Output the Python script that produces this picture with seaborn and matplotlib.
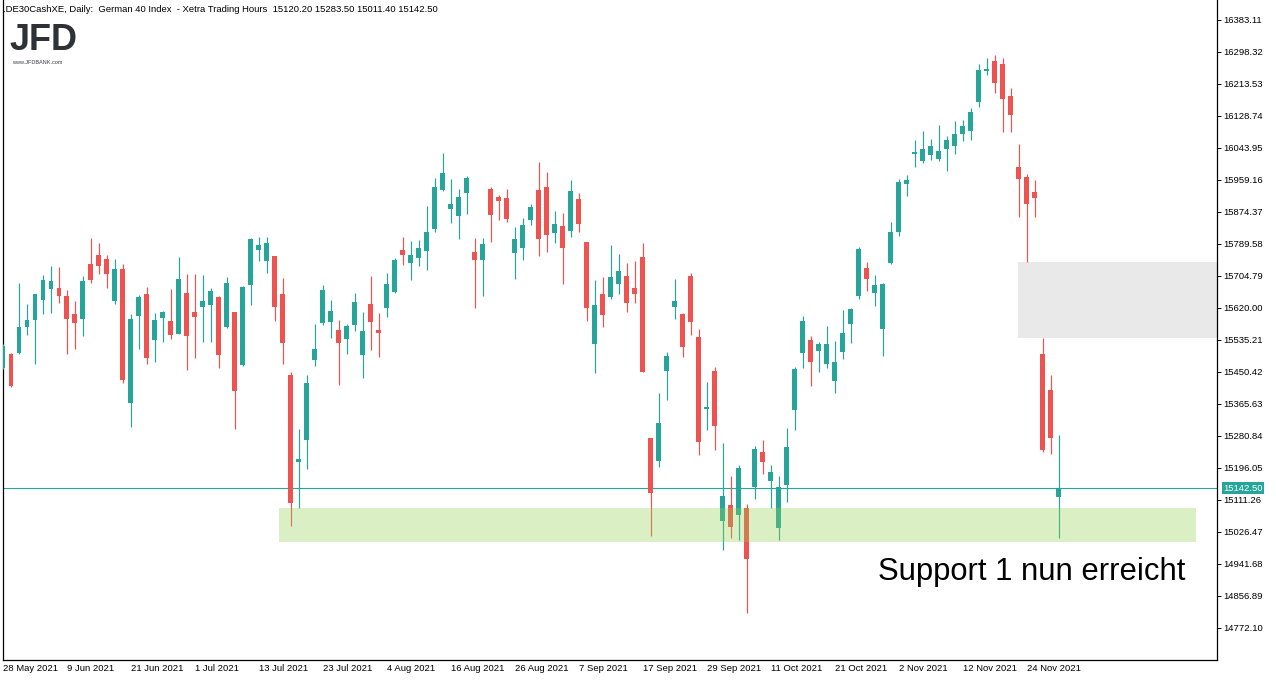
import numpy as np
import pandas as pd
import matplotlib
matplotlib.use("Agg")
import matplotlib.pyplot as plt
from matplotlib.patches import Rectangle
import seaborn as sns

# daily OHLC, 28 May 2021 .. 30 Nov 2021
opens = [
    15461.6, 15497.9, 15500.6, 15570.2, 15588.8, 15641.8, 15670.9, 15672.8, 15651.6, 15603.9,
    15591.4, 15736.4, 15760.2, 15749.6, 15639.1, 15723.1, 15368.8, 15599.4, 15656.9, 15535.8,
    15594.1, 15585.3, 15551.7, 15659.5, 15609.2, 15623.2, 15628.5, 15648.9, 15570.2, 15609.2,
    15469.5, 15681.5, 15774.3, 15745.1, 15757.6, 15656.9, 15442.2, 15212.5, 15270.8, 15482.0,
    15580.0, 15582.7, 15561.5, 15537.6, 15574.7, 15495.2, 15630.4, 15561.5, 15619.8, 15662.2,
    15773.5, 15739.0, 15752.3, 15770.8, 15829.1, 15932.5, 15882.1, 15863.6, 15924.5, 15768.2,
    15747.0, 15935.1, 15913.9, 15911.3, 15765.5, 15778.8, 15853.0, 15932.5, 15940.4, 15818.5,
    15837.1, 15823.8, 15908.6, 15794.7, 15524.4, 15656.9, 15648.9, 15683.4, 15704.6, 15672.8,
    15754.9, 15275.3, 15215.1, 15453.6, 15623.2, 15603.9, 15704.6, 15542.9, 15352.9, 15452.8,
    15056.1, 15097.7, 15072.0, 15089.8, 15146.2, 15238.2, 15162.1, 15037.6, 15151.5, 15350.3,
    15501.3, 15535.0, 15506.6, 15472.2, 15427.1, 15504.0, 15578.2, 15652.4, 15725.8, 15660.3,
    15564.9, 15739.8, 15822.0, 15949.2, 16028.7, 16010.1, 16026.0, 16015.4, 16041.9, 16049.9,
    16081.7, 16089.6, 16166.5, 16248.6, 16274.3, 16266.4, 16181.6, 15993.4, 15967.0, 15927.2,
    15497.9, 15402.5, 15120.2,
]
highs = [
    15524.4, 15500.6, 15686.0, 15630.4, 15658.2, 15707.2, 15731.1, 15728.4, 15667.5, 15638.3,
    15704.6, 15805.3, 15792.0, 15760.2, 15749.6, 15736.4, 15603.9, 15654.2, 15675.4, 15606.5,
    15611.8, 15670.1, 15754.9, 15709.9, 15709.9, 15707.2, 15672.8, 15651.6, 15702.0, 15610.5,
    15678.1, 15805.3, 15808.7, 15808.7, 15758.9, 15699.3, 15450.2, 15299.1, 15442.2, 15577.4,
    15680.7, 15641.0, 15588.0, 15577.4, 15659.5, 15609.2, 15704.6, 15606.5, 15712.5, 15752.3,
    15807.9, 15797.3, 15800.0, 15890.1, 15964.3, 16030.5, 15961.6, 15935.1, 15969.6, 15805.3,
    15805.3, 15940.4, 15919.2, 15935.1, 15834.4, 15858.3, 15895.4, 16006.7, 15980.2, 15876.8,
    15871.5, 15959.0, 15924.5, 15796.0, 15694.0, 15702.0, 15786.7, 15762.9, 15739.0, 15744.3,
    15792.0, 15276.6, 15394.5, 15503.2, 15696.6, 15606.5, 15712.5, 15564.1, 15423.7, 15463.4,
    15262.0, 15174.6, 15203.7, 15100.4, 15254.1, 15270.0, 15203.7, 15174.6, 15301.8, 15463.4,
    15598.6, 15545.6, 15529.7, 15572.1, 15532.3, 15614.5, 15619.8, 15781.4, 15741.7, 15707.2,
    15686.0, 15847.7, 15961.6, 15972.2, 16065.0, 16088.8, 16067.6, 16104.7, 16075.6, 16115.3,
    16118.0, 16149.8, 16266.4, 16282.3, 16290.2, 16282.3, 16202.8, 16054.4, 15974.9, 15959.0,
    15540.3, 15442.2, 15283.5,
]
lows = [
    15458.1, 15410.5, 15497.9, 15548.2, 15472.2, 15604.7, 15607.3, 15633.8, 15498.7, 15511.9,
    15546.4, 15686.8, 15710.7, 15673.6, 15631.2, 15421.8, 15305.2, 15511.9, 15472.2, 15477.5,
    15530.5, 15538.4, 15550.4, 15456.3, 15488.1, 15530.5, 15530.5, 15461.6, 15567.6, 15299.9,
    15466.9, 15628.5, 15744.3, 15713.3, 15586.1, 15472.2, 15042.9, 15090.6, 15193.9, 15466.9,
    15574.7, 15540.3, 15415.7, 15497.9, 15558.8, 15434.3, 15508.5, 15489.9, 15595.9, 15659.5,
    15733.7, 15694.0, 15731.1, 15720.5, 15821.2, 15931.2, 15845.0, 15802.6, 15868.9, 15619.8,
    15651.6, 15794.7, 15853.0, 15847.7, 15696.6, 15747.0, 15839.7, 15757.6, 15768.2, 15792.0,
    15683.4, 15807.9, 15821.2, 15585.3, 15447.5, 15569.4, 15643.6, 15656.9, 15610.0, 15633.8,
    15449.7, 15016.4, 15199.2, 15376.8, 15591.4, 15490.7, 15549.0, 15231.0, 15297.3, 15244.3,
    14979.3, 15011.1, 15005.8, 14812.3, 15114.4, 15180.7, 15090.6, 15005.8, 15106.5, 15297.3,
    15461.6, 15413.9, 15451.0, 15461.6, 15395.3, 15485.4, 15527.8, 15644.4, 15665.6, 15625.9,
    15493.4, 15737.2, 15811.4, 15917.4, 15994.2, 16004.8, 16012.8, 16010.1, 15983.6, 16028.7,
    16063.1, 16065.8, 16153.2, 16238.0, 16190.3, 16087.0, 16087.0, 15861.7, 15742.0, 15861.7,
    15239.0, 15233.7, 15011.4,
]
closes = [
    15519.1, 15413.1, 15569.4, 15588.0, 15656.9, 15694.0, 15691.3, 15652.4, 15591.4, 15580.8,
    15691.3, 15694.8, 15731.9, 15710.7, 15723.1, 15429.8, 15590.6, 15648.9, 15488.1, 15588.0,
    15609.2, 15549.0, 15696.6, 15546.4, 15596.7, 15638.3, 15664.8, 15496.0, 15686.0, 15400.6,
    15675.4, 15802.6, 15786.7, 15792.0, 15623.2, 15527.8, 15103.8, 15219.6, 15421.0, 15511.1,
    15667.5, 15611.8, 15527.8, 15572.1, 15635.7, 15558.8, 15582.7, 15553.5, 15683.4, 15747.0,
    15760.2, 15760.2, 15778.8, 15821.2, 15940.4, 15977.5, 15895.4, 15913.9, 15964.3, 15747.0,
    15789.4, 15866.2, 15903.3, 15855.6, 15802.6, 15839.7, 15887.4, 15802.6, 15813.2, 15842.4,
    15778.8, 15929.8, 15842.4, 15619.8, 15627.7, 15601.2, 15702.0, 15717.8, 15633.8, 15657.7,
    15451.0, 15130.3, 15315.0, 15492.6, 15638.3, 15517.2, 15583.5, 15265.5, 15357.4, 15307.9,
    15121.6, 15040.2, 15195.8, 14955.4, 15246.1, 15212.5, 15185.2, 15145.4, 15251.4, 15458.1,
    15585.3, 15477.5, 15524.4, 15524.4, 15476.7, 15553.5, 15617.1, 15776.1, 15697.4, 15680.7,
    15683.4, 15821.2, 15953.7, 15959.0, 16033.2, 16041.1, 16049.1, 16035.8, 16065.0, 16080.9,
    16102.1, 16139.2, 16250.5, 16253.1, 16216.8, 16174.4, 16132.0, 15962.4, 15896.2, 15912.1,
    15244.3, 15276.1, 15142.5,
]

date_labels = ["28 May 2021", "9 Jun 2021", "21 Jun 2021", "1 Jul 2021", "13 Jul 2021",
               "23 Jul 2021", "4 Aug 2021", "16 Aug 2021", "26 Aug 2021", "7 Sep 2021",
               "17 Sep 2021", "29 Sep 2021", "11 Oct 2021", "21 Oct 2021", "2 Nov 2021",
               "12 Nov 2021", "24 Nov 2021"]
price_ticks = [16383.11, 16298.32, 16213.53, 16128.74, 16043.95, 15959.16, 15874.37,
               15789.58, 15704.79, 15620.00, 15535.21, 15450.42, 15365.63, 15280.84,
               15196.05, 15111.26, 15026.47, 14941.68, 14856.89, 14772.10]

last_price = 15142.50
support_zone = (15000.0, 15090.0)   # green band
gap_zone = (15540.0, 15742.0)       # grey band (26 Nov gap)

header = (".DE30CashXE, Daily:  German 40 Index  - Xetra Trading Hours  "
          "15120.20 15283.50 15011.40 15142.50")

GREEN = "#26a69a"
RED = "#ef5350"

df = pd.DataFrame({"open": opens, "high": highs, "low": lows, "close": closes})
df["x"] = np.arange(len(df))
df["up"] = df["close"] >= df["open"]
df["color"] = np.where(df["up"], GREEN, RED)
df["bottom"] = df[["open", "close"]].min(axis=1)
df["height"] = (df["close"] - df["open"]).abs().clip(lower=4.0)

sns.set_style("white")
plt.rcParams["font.family"] = ["Liberation Sans", "DejaVu Sans"]

fig = plt.figure(figsize=(12.76, 6.81), dpi=100)
ax = fig.add_axes([3 / 1276, 21 / 681, 1214 / 1276, 660 / 681])

# zones
ax.add_patch(Rectangle((126.94, gap_zone[0]), 40, gap_zone[1] - gap_zone[0],
                       facecolor="#e9e9e9", edgecolor="none", zorder=1))

ax.axhline(last_price, color=GREEN, lw=0.8, zorder=2)

# candles
ax.vlines(df["x"], df["low"], df["high"], colors=df["color"], lw=0.85, zorder=3)
ax.bar(df["x"], df["height"], bottom=df["bottom"], width=0.62,
       color=df["color"], linewidth=0, zorder=3)

ax.add_patch(Rectangle((34.56, support_zone[0]), 149.19 - 34.56,
                       support_zone[1] - support_zone[0],
                       facecolor="#92d050", alpha=0.33, edgecolor="none", zorder=4))

ax.set_xlim(0.06, 151.8)
ax.set_ylim(14687.3, 16436.1)

# axes look
sns.despine(ax=ax, top=True, right=False, left=False, bottom=False)
for side in ["left", "right", "bottom"]:
    ax.spines[side].set_color("black")
    ax.spines[side].set_linewidth(0.9)

ax.yaxis.tick_right()
ax.set_yticks(price_ticks)
ax.set_yticklabels(["%.2f" % v for v in price_ticks])
ax.tick_params(axis="y", direction="out", length=3, width=0.7, pad=1.5,
               labelsize=6.8, colors="black")

ax.set_xticks(np.arange(0, 8 * len(date_labels), 8))
ax.set_xticklabels(date_labels, ha="left")
ax.tick_params(axis="x", direction="out", length=4, width=0.7, pad=-1.2,
               labelsize=6.8, colors="black")
ax.grid(False)

# price tag on the right scale
ax.annotate("%.2f" % last_price, xy=(1, last_price), xycoords=ax.get_yaxis_transform(),
            xytext=(4.5, 0), textcoords="offset points", ha="left", va="center",
            color="white", fontsize=6.8,
            bbox=dict(boxstyle="square,pad=0.18", fc=GREEN, ec="none"))

ax.text(0.721, 0.121, "Support 1 nun erreicht", transform=ax.transAxes,
        fontsize=22.3, color="black", ha="left", va="baseline", zorder=6)

# header + logo
fig.text(3 / 1276, 1 - 10 / 681, header, fontsize=6.8, color="black",
         ha="left", va="center")
fig.text(10 / 1276, 1 - 50 / 681, "JFD", fontsize=26, fontweight="bold",
         color="#2e3236", ha="left", va="baseline")
fig.text(12 / 1276, 1 - 63.5 / 681, "www.JFDBANK.com", fontsize=4.0,
         color="#3a3d40", ha="left", va="baseline")

fig.savefig("out.png", dpi=100)
